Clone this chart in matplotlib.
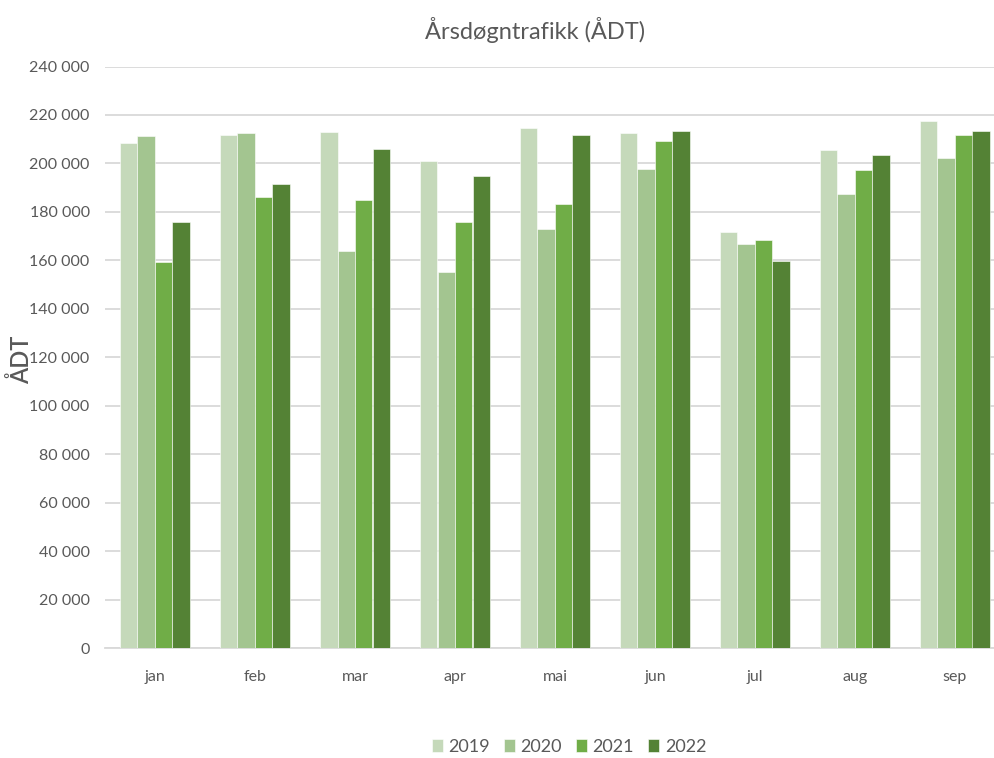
import matplotlib
matplotlib.use("Agg")
import matplotlib.pyplot as plt
import numpy as np
from matplotlib.ticker import FuncFormatter

months = ["jan", "feb", "mar", "apr", "mai", "jun", "jul", "aug", "sep"]
years = ["2019", "2020", "2021", "2022"]
v2019 = [208500, 211900, 213000, 201200, 214600, 212400, 171900, 205700, 217400]
v2020 = [211300, 212400, 163700, 155300, 173100, 197800, 166900, 187200, 202200]
v2021 = [159200, 186100, 185100, 175700, 183300, 209100, 168500, 197200, 211900]
v2022 = [175900, 191700, 205800, 195000, 211900, 213500, 159700, 203400, 213500]
series = [v2019, v2020, v2021, v2022]
colors = ["#C5D9BA", "#A3C590", "#70AD47", "#548235"]
yticks = list(range(0, 240001, 20000))

plt.rcParams['font.family'] = ['Lato', 'DejaVu Sans']
txt = "#595959"

fig = plt.figure(figsize=(9.95, 7.58), dpi=100)
W, H = 995, 758
ax = fig.add_axes([105 / W, (H - 648) / H, 900 / W, (648 - 66.5) / H])

x = np.arange(len(months))
bw = 0.175
for i, (vals, c, yr) in enumerate(zip(series, colors, years)):
    ax.bar(x + (i - 1.5) * bw, vals, width=bw, color=c, label=yr,
           edgecolor="white", linewidth=0.4, zorder=3)

ax.set_xlim(-0.5, len(months) - 0.5)
ax.set_ylim(0, 240000)
ax.set_yticks(yticks)
ax.yaxis.set_major_formatter(FuncFormatter(lambda v, p: f"{int(v):,}".replace(",", " ")))
ax.set_xticks(x)
ax.set_xticklabels(months)
ax.tick_params(axis="both", length=0, labelsize=11.5, colors=txt)
ax.tick_params(axis="y", pad=11)
ax.tick_params(axis="x", pad=16)
ax.grid(axis="y", color="#D9D9D9", linewidth=1.3, zorder=0)
for s in ["top", "right", "left"]:
    ax.spines[s].set_visible(False)
ax.spines["bottom"].set_color("#D9D9D9")
ax.spines["bottom"].set_linewidth(1.3)

fig.text(535 / W, 1 - 30 / H, "Årsdøgntrafikk (ÅDT)", ha="center", va="center",
         fontsize=17, color=txt)
fig.text(21 / W, 1 - 360 / H, "ÅDT", ha="center", va="center", rotation=90,
         fontsize=17, color=txt, fontweight="semibold")

handles, labels = ax.get_legend_handles_labels()
fig.legend(handles, labels, loc="center", bbox_to_anchor=(569 / W, 1 - 747 / H),
           ncol=4, frameon=False, fontsize=13, labelcolor=txt,
           handlelength=0.6, handleheight=0.7, handletextpad=0.3, columnspacing=0.8)

fig.savefig("out.png", dpi=100)
